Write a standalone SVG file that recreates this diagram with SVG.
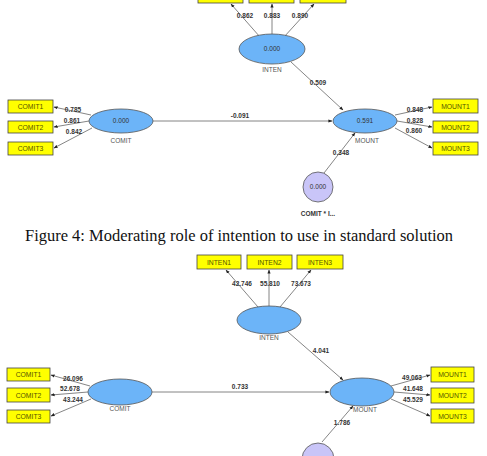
<svg xmlns="http://www.w3.org/2000/svg" width="487" height="456" viewBox="0 0 487 456">
<defs>
<marker id="ah" viewBox="0 0 10 10" refX="9" refY="5" markerWidth="5" markerHeight="5" orient="auto"><path d="M0,1 L10,5 L0,9 z" fill="#222"/></marker>
<style>
.box{fill:#FFFF00;stroke:#444;stroke-width:0.8}
.bt{font-family:"Liberation Sans",Arial,sans-serif;font-size:6.8px;fill:#555500;text-anchor:middle}
.lv{fill:#6CB4F8;stroke:#555;stroke-width:0.8}
.mod{fill:#C9C5F8;stroke:#555;stroke-width:0.8}
.vt{font-family:"Liberation Sans",Arial,sans-serif;font-size:6.5px;fill:#333;text-anchor:middle}
.nt{font-family:"Liberation Sans",Arial,sans-serif;font-size:6.5px;fill:#555;text-anchor:middle}
.ed{stroke:#666;stroke-width:0.8;fill:none;marker-end:url(#ah)}
.el{font-family:"Liberation Sans",Arial,sans-serif;font-size:6.5px;font-weight:bold;fill:#333;text-anchor:middle}
.cap{font-family:"Liberation Serif","Times New Roman",serif;font-size:16.5px;fill:#111}
</style>
</defs>
<g id="connectors">
<!-- top diagram -->
<line class="ed" x1="260" y1="37" x2="231" y2="4"/>
<line class="ed" x1="272" y1="34" x2="272" y2="4"/>
<line class="ed" x1="284" y1="37" x2="314" y2="4"/>
<line class="ed" x1="291" y1="62" x2="343" y2="110"/>
<line class="ed" x1="153" y1="121" x2="332" y2="121"/>
<line class="ed" x1="324" y1="173" x2="355" y2="133"/>
<line class="ed" x1="91" y1="115" x2="54" y2="107"/>
<line class="ed" x1="89" y1="121" x2="54" y2="127"/>
<line class="ed" x1="92" y1="128" x2="54" y2="148"/>
<line class="ed" x1="395" y1="115" x2="432" y2="107"/>
<line class="ed" x1="397" y1="121" x2="432" y2="127"/>
<line class="ed" x1="395" y1="128" x2="432" y2="148"/>
<text class="el" x="245" y="18">0.862</text>
<text class="el" x="272" y="18">0.883</text>
<text class="el" x="300" y="18">0.890</text>
<text class="el" x="318" y="85">0.509</text>
<text class="el" x="240" y="118">-0.091</text>
<text class="el" x="341" y="155">0.348</text>
<text class="el" x="73" y="112">0.785</text>
<text class="el" x="72" y="123">0.861</text>
<text class="el" x="74" y="134">0.842</text>
<text class="el" x="415" y="112">0.848</text>
<text class="el" x="415" y="123">0.828</text>
<text class="el" x="414" y="133">0.860</text>
<!-- bottom diagram -->
<line class="ed" x1="258" y1="307" x2="226" y2="270"/>
<line class="ed" x1="269" y1="306" x2="269" y2="270"/>
<line class="ed" x1="280" y1="307" x2="311" y2="270"/>
<line class="ed" x1="288" y1="332" x2="343" y2="380"/>
<line class="ed" x1="152" y1="392" x2="329" y2="392"/>
<line class="ed" x1="322" y1="442" x2="353" y2="406"/>
<line class="ed" x1="90" y1="386" x2="51" y2="375"/>
<line class="ed" x1="88" y1="392" x2="51" y2="395"/>
<line class="ed" x1="91" y1="399" x2="51" y2="416"/>
<line class="ed" x1="391" y1="386" x2="430" y2="375"/>
<line class="ed" x1="394" y1="392" x2="430" y2="395"/>
<line class="ed" x1="391" y1="399" x2="430" y2="416"/>
<text class="el" x="242" y="286">42.746</text>
<text class="el" x="270" y="286">55.810</text>
<text class="el" x="301" y="286">73.673</text>
<text class="el" x="321" y="353">4.041</text>
<text class="el" x="240" y="389">0.733</text>
<text class="el" x="342" y="425">1.786</text>
<text class="el" x="73" y="381">26.096</text>
<text class="el" x="70" y="391">52.678</text>
<text class="el" x="73" y="402">43.244</text>
<text class="el" x="412" y="380">49.063</text>
<text class="el" x="413" y="391">41.648</text>
<text class="el" x="413" y="402">45.529</text>
</g>
<!-- top diagram nodes -->
<g id="inten1_top"><rect class="box" x="198" y="-10" width="45" height="13"/></g>
<g id="inten2_top"><rect class="box" x="249" y="-10" width="45" height="13"/></g>
<g id="inten3_top"><rect class="box" x="300" y="-10" width="46" height="13"/></g>
<g id="inten_top"><ellipse class="lv" cx="272" cy="49" rx="33" ry="15"/><text class="vt" x="272" y="51">0.000</text><text class="nt" x="272" y="72">INTEN</text></g>
<g id="comit_top"><ellipse class="lv" cx="121" cy="121" rx="32" ry="12"/><text class="vt" x="121" y="123">0.000</text><text class="nt" x="121" y="143">COMIT</text></g>
<g id="mount_top"><ellipse class="lv" cx="365" cy="121" rx="32" ry="12"/><text class="vt" x="365" y="123">0.591</text><text class="nt" x="367" y="143">MOUNT</text></g>
<g id="mod_top"><circle class="mod" cx="318" cy="187" r="15"/><text class="vt" x="318" y="189">0.000</text><text class="el" x="318" y="216">COMIT * I...</text></g>
<g id="comit1_top"><rect class="box" x="8" y="100" width="45" height="13"/><text class="bt" x="30.5" y="108.5">COMIT1</text></g>
<g id="comit2_top"><rect class="box" x="8" y="121" width="45" height="12"/><text class="bt" x="30.5" y="129.5">COMIT2</text></g>
<g id="comit3_top"><rect class="box" x="8" y="142" width="45" height="13"/><text class="bt" x="30.5" y="150.5">COMIT3</text></g>
<g id="mount1_top"><rect class="box" x="433" y="99" width="45" height="14"/><text class="bt" x="455.5" y="108.5">MOUNT1</text></g>
<g id="mount2_top"><rect class="box" x="433" y="121" width="45" height="12"/><text class="bt" x="455.5" y="129.5">MOUNT2</text></g>
<g id="mount3_top"><rect class="box" x="433" y="142" width="45" height="13"/><text class="bt" x="455.5" y="150.5">MOUNT3</text></g>
<text class="cap" x="25" y="241" textLength="428" lengthAdjust="spacingAndGlyphs">Figure 4: Moderating role of intention to use in standard solution</text>
<!-- bottom diagram nodes -->
<g id="inten1_bot"><rect class="box" x="197" y="255" width="44" height="14"/><text class="bt" x="219" y="264.5">INTEN1</text></g>
<g id="inten2_bot"><rect class="box" x="247" y="255" width="45" height="14"/><text class="bt" x="269.5" y="264.5">INTEN2</text></g>
<g id="inten3_bot"><rect class="box" x="297" y="255" width="46" height="14"/><text class="bt" x="320" y="264.5">INTEN3</text></g>
<g id="inten_bot"><ellipse class="lv" cx="269" cy="320" rx="32" ry="14"/><text class="nt" x="269" y="340">INTEN</text></g>
<g id="comit_bot"><ellipse class="lv" cx="120" cy="392" rx="32" ry="13"/><text class="nt" x="120" y="411">COMIT</text></g>
<g id="mount_bot"><ellipse class="lv" cx="362" cy="392" rx="32" ry="14"/><text class="nt" x="365" y="412">MOUNT</text></g>
<g id="mod_bot"><circle class="mod" cx="318" cy="459" r="16"/></g>
<g id="comit1_bot"><rect class="box" x="7" y="368" width="43" height="13"/><text class="bt" x="28.5" y="376.5">COMIT1</text></g>
<g id="comit2_bot"><rect class="box" x="7" y="388" width="43" height="14"/><text class="bt" x="28.5" y="397.5">COMIT2</text></g>
<g id="comit3_bot"><rect class="box" x="7" y="410" width="43" height="13"/><text class="bt" x="28.5" y="418.5">COMIT3</text></g>
<g id="mount1_bot"><rect class="box" x="431" y="367" width="43" height="15"/><text class="bt" x="452.5" y="377">MOUNT1</text></g>
<g id="mount2_bot"><rect class="box" x="431" y="388" width="43" height="15"/><text class="bt" x="452.5" y="398">MOUNT2</text></g>
<g id="mount3_bot"><rect class="box" x="431" y="409" width="43" height="14"/><text class="bt" x="452.5" y="418.5">MOUNT3</text></g>
</svg>
